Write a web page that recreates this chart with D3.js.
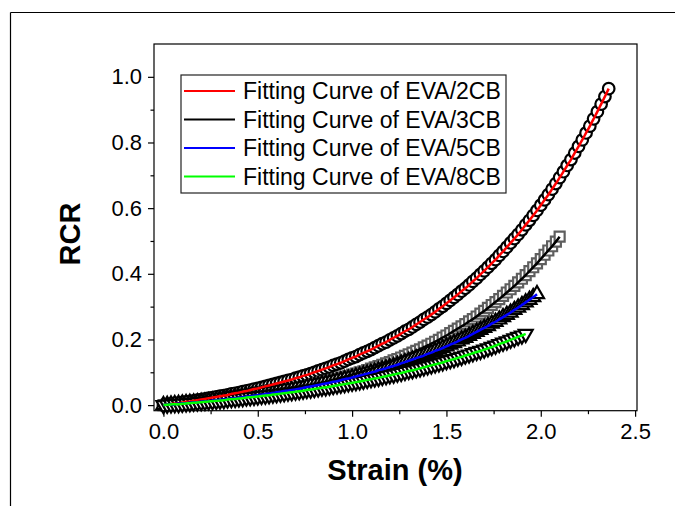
<!DOCTYPE html>
<html>
<head>
<meta charset="utf-8">
<script src="https://cdn.jsdelivr.net/npm/d3@7"></script>
<style>
  html, body { margin: 0; padding: 0; background: #fff; }
  svg { display: block; font-family: "Liberation Sans", Arial, sans-serif; }
</style>
</head>
<body>
<svg id="chart" width="675" height="506"></svg>
<script>
// Strain (%) sampling shared by all four measurements
const strain = [
  0, 0.02, 0.04, 0.06, 0.08, 0.10, 0.12, 0.14, 0.16, 0.18,
  0.20, 0.22, 0.24, 0.26, 0.28, 0.30, 0.32, 0.34, 0.36, 0.38,
  0.40, 0.42, 0.44, 0.46, 0.48, 0.50, 0.52, 0.54, 0.56, 0.58,
  0.60, 0.62, 0.64, 0.66, 0.68, 0.70, 0.72, 0.74, 0.76, 0.78,
  0.80, 0.82, 0.84, 0.86, 0.88, 0.90, 0.92, 0.94, 0.96, 0.98,
  1.00, 1.02, 1.04, 1.06, 1.08, 1.10, 1.12, 1.14, 1.16, 1.18,
  1.20, 1.22, 1.24, 1.26, 1.28, 1.30, 1.32, 1.34, 1.36, 1.38,
  1.40, 1.42, 1.44, 1.46, 1.48, 1.50, 1.52, 1.54, 1.56, 1.58,
  1.60, 1.62, 1.64, 1.66, 1.68, 1.70, 1.72, 1.74, 1.76, 1.78,
  1.80, 1.82, 1.84, 1.86, 1.88, 1.90, 1.92, 1.94, 1.96, 1.98,
  2.00, 2.02, 2.04, 2.06, 2.08, 2.10, 2.12, 2.14, 2.16, 2.18,
  2.20, 2.22, 2.24, 2.26, 2.28, 2.30, 2.32, 2.34, 2.36
];

// Relative change of resistance (RCR) for each sample
const rcr2CB = [
  0, 0.002, 0.003, 0.005, 0.006, 0.008, 0.010, 0.011, 0.013, 0.015,
  0.017, 0.019, 0.021, 0.023, 0.025, 0.027, 0.029, 0.031, 0.034, 0.036,
  0.038, 0.041, 0.043, 0.046, 0.049, 0.051, 0.054, 0.057, 0.060, 0.063,
  0.066, 0.069, 0.072, 0.075, 0.078, 0.082, 0.085, 0.089, 0.092, 0.096,
  0.100, 0.104, 0.108, 0.112, 0.116, 0.121, 0.125, 0.129, 0.134, 0.139,
  0.144, 0.148, 0.154, 0.159, 0.164, 0.169, 0.175, 0.181, 0.187, 0.192,
  0.199, 0.205, 0.211, 0.218, 0.225, 0.231, 0.238, 0.246, 0.253, 0.261,
  0.268, 0.276, 0.284, 0.293, 0.301, 0.310, 0.319, 0.328, 0.337, 0.347,
  0.356, 0.366, 0.377, 0.387, 0.398, 0.409, 0.420, 0.432, 0.443, 0.456,
  0.468, 0.481, 0.494, 0.507, 0.520, 0.534, 0.549, 0.563, 0.578, 0.593,
  0.609, 0.625, 0.641, 0.658, 0.675, 0.693, 0.711, 0.730, 0.748, 0.768,
  0.788, 0.808, 0.829, 0.850, 0.872, 0.894, 0.917, 0.940, 0.964
];
const rcr3CB = [
  0, 0.001, 0.002, 0.003, 0.004, 0.005, 0.006, 0.007, 0.008, 0.009,
  0.010, 0.011, 0.013, 0.014, 0.015, 0.016, 0.018, 0.019, 0.020, 0.022,
  0.023, 0.025, 0.026, 0.028, 0.030, 0.031, 0.033, 0.035, 0.037, 0.039,
  0.041, 0.043, 0.045, 0.047, 0.049, 0.051, 0.054, 0.056, 0.058, 0.061,
  0.063, 0.066, 0.069, 0.071, 0.074, 0.077, 0.080, 0.083, 0.086, 0.089,
  0.093, 0.096, 0.100, 0.103, 0.107, 0.111, 0.115, 0.119, 0.123, 0.127,
  0.131, 0.136, 0.140, 0.145, 0.150, 0.155, 0.160, 0.165, 0.170, 0.176,
  0.181, 0.187, 0.193, 0.199, 0.206, 0.212, 0.219, 0.226, 0.233, 0.240,
  0.247, 0.255, 0.262, 0.270, 0.279, 0.287, 0.296, 0.305, 0.314, 0.323,
  0.333, 0.343, 0.353, 0.363, 0.374, 0.385, 0.396, 0.408, 0.420, 0.432,
  0.445, 0.458, 0.471, 0.484, 0.498, 0.513
];
const rcr5CB = [
  0, 0.001, 0.002, 0.003, 0.004, 0.005, 0.006, 0.007, 0.008, 0.009,
  0.010, 0.011, 0.012, 0.014, 0.015, 0.016, 0.017, 0.019, 0.020, 0.021,
  0.023, 0.024, 0.026, 0.027, 0.029, 0.030, 0.032, 0.034, 0.035, 0.037,
  0.039, 0.041, 0.043, 0.044, 0.046, 0.048, 0.050, 0.052, 0.055, 0.057,
  0.059, 0.061, 0.064, 0.066, 0.068, 0.071, 0.073, 0.076, 0.079, 0.081,
  0.084, 0.087, 0.090, 0.093, 0.096, 0.099, 0.102, 0.106, 0.109, 0.112,
  0.116, 0.119, 0.123, 0.127, 0.131, 0.135, 0.139, 0.143, 0.147, 0.151,
  0.156, 0.160, 0.165, 0.169, 0.174, 0.179, 0.184, 0.189, 0.194, 0.200,
  0.205, 0.211, 0.217, 0.223, 0.229, 0.235, 0.241, 0.248, 0.254, 0.261,
  0.268, 0.275, 0.282, 0.290, 0.297, 0.305, 0.313, 0.321, 0.329, 0.338
];
const rcr8CB = [
  0, 0.001, 0.002, 0.003, 0.003, 0.004, 0.005, 0.006, 0.007, 0.008,
  0.009, 0.010, 0.011, 0.012, 0.013, 0.014, 0.015, 0.017, 0.018, 0.019,
  0.020, 0.021, 0.023, 0.024, 0.025, 0.026, 0.028, 0.029, 0.030, 0.032,
  0.033, 0.035, 0.036, 0.038, 0.039, 0.041, 0.042, 0.044, 0.046, 0.047,
  0.049, 0.051, 0.053, 0.054, 0.056, 0.058, 0.060, 0.062, 0.064, 0.066,
  0.068, 0.070, 0.072, 0.074, 0.077, 0.079, 0.081, 0.083, 0.086, 0.088,
  0.091, 0.093, 0.096, 0.098, 0.101, 0.104, 0.106, 0.109, 0.112, 0.115,
  0.118, 0.121, 0.124, 0.127, 0.130, 0.134, 0.137, 0.140, 0.144, 0.147,
  0.151, 0.154, 0.158, 0.162, 0.165, 0.169, 0.173, 0.177, 0.181, 0.186,
  0.190, 0.194, 0.199, 0.203, 0.208, 0.212, 0.217
];

const seriesNames = ["EVA/2CB", "EVA/3CB", "EVA/5CB", "EVA/8CB"];
const legendLabels = [
  "Fitting Curve of EVA/2CB",
  "Fitting Curve of EVA/3CB",
  "Fitting Curve of EVA/5CB",
  "Fitting Curve of EVA/8CB"
];
const xMajorTicks = [0, 0.5, 1.0, 1.5, 2.0, 2.5];
const xMinorTicks = [0.25, 0.75, 1.25, 1.75, 2.25];
const yMajorTicks = [0, 0.2, 0.4, 0.6, 0.8, 1.0];
const yMinorTicks = [0.1, 0.3, 0.5, 0.7, 0.9];

// Drawing styles, one per series
const styles = [
  { symbol: d3.symbolCircle,   size: 105, rotate: 0,   marker: "#000",    width: 2.2, line: "#ff0000" },
  { symbol: d3.symbolSquare,   size: 100, rotate: 0,   marker: "#5e5e5e", width: 2.2, line: "#000000" },
  { symbol: d3.symbolTriangle, size: 85,  rotate: 0,   marker: "#000",    width: 2.2, line: "#0000ff" },
  { symbol: d3.symbolTriangle, size: 85,  rotate: 180, marker: "#000",    width: 2.2, line: "#00ff00" }
];

const seriesValues = [rcr2CB, rcr3CB, rcr5CB, rcr8CB];
const series = seriesNames.map((name, i) => ({
  name,
  points: seriesValues[i].map((v, j) => ({ x: strain[j], y: v })),
  style: styles[i]
}));

const svg = d3.select("#chart");

// Outer figure frame (runs past the right and bottom edges)
svg.append("line").attr("x1", 10.5).attr("y1", 12.5).attr("x2", 675).attr("y2", 12.5)
  .attr("stroke", "#000").attr("stroke-width", 1.2);
svg.append("line").attr("x1", 10.5).attr("y1", 12.5).attr("x2", 10.5).attr("y2", 506)
  .attr("stroke", "#000").attr("stroke-width", 1.2);

const plot = { left: 154, right: 637, top: 44, bottom: 410.7 };
const x = d3.scaleLinear().domain([-0.05, 2.51]).range([plot.left, plot.right]);
const y = d3.scaleLinear().domain([-0.017, 1.1]).range([plot.bottom, plot.top]);

// Axes
const fmt = d3.format(".1f");
const xAxisG = svg.append("g").attr("transform", `translate(0,${plot.bottom})`);
xAxisG.call(d3.axisBottom(x).tickValues(xMajorTicks).tickFormat(fmt).tickSize(6).tickPadding(7));
const xMinorG = svg.append("g").attr("transform", `translate(0,${plot.bottom})`);
xMinorG.call(d3.axisBottom(x).tickValues(xMinorTicks).tickFormat("").tickSize(3.5));

const yAxisG = svg.append("g").attr("transform", `translate(${plot.left},0)`);
yAxisG.call(d3.axisLeft(y).tickValues(yMajorTicks).tickFormat(fmt).tickSize(6).tickPadding(6));
const yMinorG = svg.append("g").attr("transform", `translate(${plot.left},0)`);
yMinorG.call(d3.axisLeft(y).tickValues(yMinorTicks).tickFormat("").tickSize(3.5));

[xAxisG, xMinorG, yAxisG, yMinorG].forEach(g => {
  g.select(".domain").remove();
  g.selectAll("line").attr("stroke", "#000").attr("stroke-width", 1.2);
  g.selectAll("text").attr("font-size", 22).attr("fill", "#000")
    .attr("font-family", '"Liberation Sans", Arial, sans-serif');
});

// Scatter markers
series.forEach(s => {
  const sym = d3.symbol().type(s.style.symbol).size(s.style.size);
  svg.append("g")
    .selectAll("path")
    .data(s.points)
    .join("path")
    .attr("d", sym)
    .attr("transform", d => `translate(${x(d.x)},${y(d.y)}) rotate(${s.style.rotate})`)
    .attr("fill", "#fff")
    .attr("stroke", s.style.marker)
    .attr("stroke-width", s.style.width);
});

// Fitting curves
const line = d3.line().x(d => x(d.x)).y(d => y(d.y)).curve(d3.curveMonotoneX);
series.forEach(s => {
  svg.append("path")
    .datum(s.points)
    .attr("d", line)
    .attr("fill", "none")
    .attr("stroke", s.style.line)
    .attr("stroke-width", 2.5);
});

// Plot frame
svg.append("rect")
  .attr("x", plot.left).attr("y", plot.top)
  .attr("width", plot.right - plot.left).attr("height", plot.bottom - plot.top)
  .attr("fill", "none").attr("stroke", "#000").attr("stroke-width", 1.2);

// Axis titles
svg.append("text")
  .attr("x", 395).attr("y", 480)
  .attr("text-anchor", "middle")
  .attr("font-size", 29).attr("font-weight", "bold")
  .text("Strain (%)");
svg.append("text")
  .attr("transform", "translate(80,234) rotate(-90)")
  .attr("text-anchor", "middle")
  .attr("font-size", 29).attr("font-weight", "bold")
  .text("RCR");

// Legend
const legend = svg.append("g");
legend.append("rect")
  .attr("x", 181).attr("y", 75).attr("width", 325).attr("height", 118)
  .attr("fill", "#fff").attr("stroke", "#222").attr("stroke-width", 1.2);
const rowY = d3.scalePoint().domain(legendLabels).range([91, 176.5]);
legendLabels.forEach((label, i) => {
  const yy = rowY(label);
  legend.append("line")
    .attr("x1", 184).attr("x2", 235).attr("y1", yy).attr("y2", yy)
    .attr("stroke", styles[i].line).attr("stroke-width", 2.2);
  legend.append("text")
    .attr("x", 243).attr("y", yy + 8)
    .attr("font-size", 23)
    .text(label);
});
</script>
</body>
</html>
